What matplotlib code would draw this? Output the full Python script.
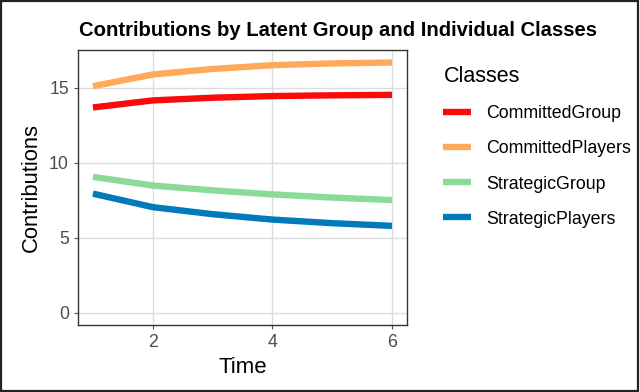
import matplotlib.pyplot as plt
from matplotlib.patches import Rectangle

plt.rcParams['font.family'] = ['Liberation Sans', 'DejaVu Sans']

time = [1, 2, 3, 4, 5, 6]
classes = ["CommittedGroup", "CommittedPlayers", "StrategicGroup", "StrategicPlayers"]
committed_group = [13.68, 14.15, 14.33, 14.44, 14.49, 14.52]
committed_players = [15.1, 15.88, 16.25, 16.5, 16.62, 16.68]
strategic_group = [9.05, 8.47, 8.15, 7.88, 7.67, 7.5]
strategic_players = [7.93, 7.03, 6.56, 6.2, 5.96, 5.78]
colors = ["#FA0A0A", "#FFAA58", "#8ADA98", "#007ABA"]

series = [committed_group, committed_players, strategic_group, strategic_players]

fig = plt.figure(figsize=(6.4, 3.92), dpi=100)
ax = fig.add_axes([78/640, 1 - 325/392, (407-78)/640, (325-50)/392])

for name, vals, c in zip(classes, series, colors):
    ax.plot(time, vals, color=c, lw=4.6, label=name, solid_capstyle="butt")

ymax = max(max(s) for s in series)
ax.set_xlim(0.75, 6.25)
ax.set_ylim(-0.05*ymax, ymax*1.05)
ax.set_xticks([2, 4, 6])
ax.set_yticks([0, 5, 10, 15])
ax.grid(True, color="#DDDDDD", lw=1.0)
ax.set_axisbelow(True)
for s in ax.spines.values():
    s.set_color("#333333")
    s.set_linewidth(1.0)
ax.tick_params(colors="#555555", labelsize=12.8, length=3, labelcolor="#4D4D4D")

ax.set_xlabel("Time", fontsize=16, labelpad=4)
ax.set_ylabel("Contributions", fontsize=15.8, labelpad=5)
fig.text(338/640, 1 - 30/392, "Contributions by Latent Group and Individual Classes",
         ha="center", va="center", fontsize=14.6, fontweight="bold")

leg = ax.legend(title="Classes", loc="upper left", bbox_to_anchor=(1.089, 0.967),
                frameon=False, fontsize=12.8, title_fontsize=15.5, handlelength=1.55,
                handletextpad=0.85, labelspacing=1.02, borderaxespad=0)
leg._legend_box.align = "left"

fig.patches.append(Rectangle((0.002, 0.003), 0.995, 0.994, transform=fig.transFigure,
                             fill=False, edgecolor="#222222", lw=1.6))

plt.savefig("out.png", dpi=100)
